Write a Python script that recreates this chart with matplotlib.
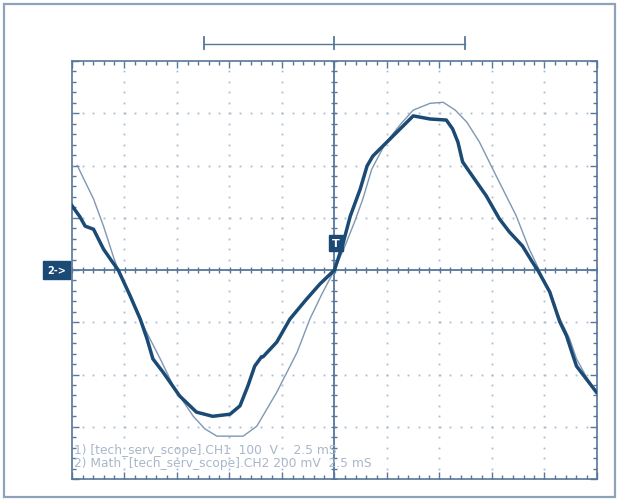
import numpy as np
import matplotlib
matplotlib.use("Agg")
import matplotlib.pyplot as plt
from matplotlib.patches import Rectangle

# ---- data (screen divisions: x = time div, y = vertical div) ----
ref_x = [-4.90, -4.59, -4.40, -4.21, -4.12, -3.89, -3.61, -3.32, -3.04, -2.69,
         -2.47, -2.24, -1.74, -1.48, -1.10, -0.71, -0.47, -0.24, 0.00, 0.20,
         0.39, 0.54, 0.71, 0.96, 1.25, 1.50, 1.82, 2.07, 2.30, 2.52, 2.76,
         3.08, 3.46, 3.71, 3.90, 4.09, 4.28, 4.48, 4.61, 4.80, 4.99]
ref_y = [2.00, 1.36, 0.84, 0.25, 0.00, -0.48, -1.13, -1.70, -2.28, -2.80,
         -3.04, -3.18, -3.18, -2.99, -2.34, -1.57, -0.94, -0.46, 0.00, 0.46,
         0.94, 1.36, 1.93, 2.41, 2.78, 3.06, 3.19, 3.21, 3.06, 2.83, 2.45,
         1.80, 1.04, 0.40, 0.00, -0.42, -0.90, -1.32, -1.70, -2.05, -2.34]

sig_x = [-5.00, -4.85, -4.75, -4.59, -4.40, -4.27, -4.12, -3.89, -3.70, -3.57,
         -3.46, -3.27, -2.95, -2.63, -2.32, -1.99, -1.80, -1.65, -1.52, -1.39,
         -1.36, -1.10, -0.85, -0.56, -0.28, 0.00, 0.16, 0.30, 0.49, 0.62,
         0.73, 1.06, 1.38, 1.50, 1.82, 2.13, 2.25, 2.35, 2.44, 2.57, 2.89,
         3.14, 3.33, 3.58, 3.77, 3.87, 4.10, 4.29, 4.42, 4.52, 4.61, 4.80, 4.99]
sig_y = [1.23, 1.02, 0.84, 0.78, 0.40, 0.21, 0.00, -0.50, -0.94, -1.32,
         -1.70, -1.95, -2.41, -2.72, -2.80, -2.76, -2.60, -2.22, -1.84, -1.66,
         -1.66, -1.38, -0.94, -0.59, -0.27, 0.00, 0.50, 1.03, 1.55, 1.99,
         2.18, 2.51, 2.83, 2.95, 2.89, 2.87, 2.70, 2.45, 2.07, 1.88, 1.42,
         0.98, 0.73, 0.46, 0.15, 0.00, -0.42, -0.99, -1.26, -1.57, -1.84, -2.09, -2.34]

info_lines = ["1) [tech_serv_scope].CH1  100  V    2.5 mS",
              "2) Math  [tech_serv_scope].CH2 200 mV  2.5 mS"]

NAVY = "#1b4a75"
THIN = "#7f97b3"
FRAME = "#56769a"
DOT = "#a9bbcf"

fig = plt.figure(figsize=(6.22, 5.02), dpi=100)
fig.patch.set_facecolor("white")

# outer frame
fig.patches.append(Rectangle((3.5/622, 4.5/502), 611/622, 493/502, transform=fig.transFigure,
                             fill=False, edgecolor="#8ea2bb", linewidth=1.6))

ax = fig.add_axes([72/622, 22/502, 525/622, 418/502])
ax.set_xlim(-5, 5)
ax.set_ylim(-4, 4)
for s in ax.spines.values():
    s.set_color(FRAME)
    s.set_linewidth(1.2)

ax.set_xticks(np.arange(-5, 5.01, 1))
ax.set_yticks(np.arange(-4, 4.01, 1))
ax.set_xticks(np.arange(-5, 5.01, 0.2), minor=True)
ax.set_yticks(np.arange(-4, 4.01, 0.2), minor=True)
ax.tick_params(which="both", direction="in", top=True, right=True, color=FRAME,
               labelbottom=False, labelleft=False, width=1.0)
ax.tick_params(which="major", length=5)
ax.tick_params(which="minor", length=3)

# dotted grid: dots at minor positions along major lines
minor_x = np.arange(-5, 5.01, 0.2)
minor_y = np.arange(-4, 4.01, 0.2)
for gx in range(-4, 5):
    if gx == 0:
        continue
    ax.plot(np.full_like(minor_y, gx), minor_y, ls="none", marker="s", ms=1.3,
            color=DOT, mec="none")
for gy in range(-3, 4):
    if gy == 0:
        continue
    ax.plot(minor_x, np.full_like(minor_x, gy), ls="none", marker="s", ms=1.3,
            color=DOT, mec="none")

# centre axes with tick marks
ax.axhline(0, color=FRAME, lw=1.3)
ax.axvline(0, color=FRAME, lw=1.3)
ax.plot(minor_x, np.zeros_like(minor_x), ls="none", marker="|", ms=5, mew=1.0, color=FRAME)
ax.plot(np.zeros_like(minor_y), minor_y, ls="none", marker="_", ms=5, mew=1.0, color=FRAME)

# traces
ax.plot(ref_x, ref_y, color=THIN, lw=1.0, zorder=4)
ax.plot(sig_x, sig_y, color=NAVY, lw=2.5, zorder=5, solid_joinstyle="round")

# top bracket
ax.plot([-2.48, 2.48], [4.33, 4.33], color=FRAME, lw=1.0, clip_on=False)
for bx in (-2.48, 0, 2.48):
    ax.plot([bx, bx], [4.23, 4.45], color=FRAME, lw=1.3, clip_on=False)

# trigger marker "T"
ax.text(0.03, 0.52, "T", ha="center", va="center", fontsize=8, fontweight="bold",
        color="white", family="DejaVu Sans",
        bbox=dict(boxstyle="square,pad=0.25", fc=NAVY, ec=NAVY), zorder=6)
# channel marker "2->"
ax.text(-5.29, 0, "2->", ha="center", va="center", fontsize=7, fontweight="bold",
        color="white", family="DejaVu Sans", clip_on=False,
        bbox=dict(boxstyle="square,pad=0.4", fc=NAVY, ec=NAVY), zorder=6)

# info text
for i, line in enumerate(info_lines):
    ax.text(-4.97, -3.43 - i * 0.25, line, ha="left", va="center", fontsize=8.8,
            color="#a8b7c9", family="DejaVu Sans")

fig.savefig("out.png", dpi=100)
